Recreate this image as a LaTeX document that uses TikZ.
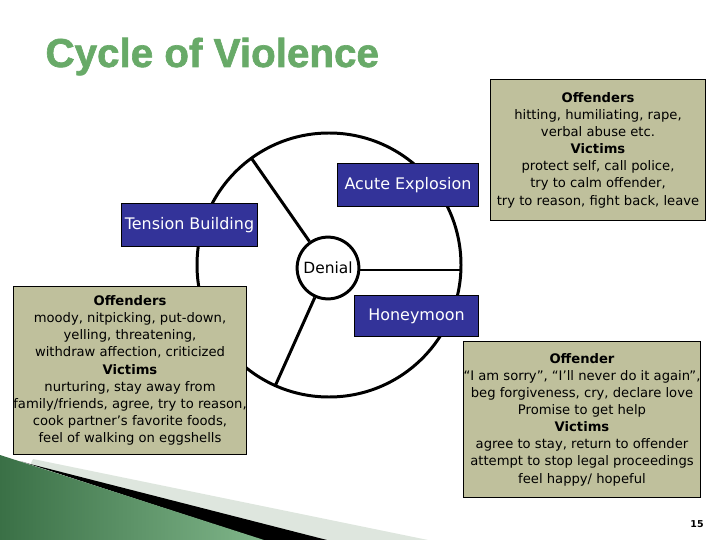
\documentclass[tikz,border=0pt]{standalone}
\usepackage{fontspec}
\setmainfont{DejaVu Sans}
\newfontfamily\titlefont[FakeBold=1.6]{Liberation Sans Bold}
\definecolor{boxfill}{RGB}{191,192,156}
\definecolor{bluefill}{RGB}{51,51,153}
\definecolor{titlegreen}{RGB}{104,170,104}
\definecolor{gdark}{RGB}{58,112,70}
\definecolor{glight}{RGB}{128,182,138}
\definecolor{gmid}{RGB}{80,136,92}
\definecolor{stripelight}{RGB}{222,230,222}
\tikzset{
  bodytext/.style={font=\fontsize{13.2}{17.2}\selectfont},
  notebox/.style={draw=black, line width=1pt, fill=boxfill, align=center, bodytext, inner sep=0pt},
  stagebox/.style={draw=black, line width=1pt, fill=bluefill, text=white, font=\fontsize{16}{19}\selectfont, inner sep=0pt},
  wheel/.style={line width=3pt, draw=black},
}
\begin{document}
\begin{tikzpicture}[x=1bp,y=-1bp]
\useasboundingbox (0,0) rectangle (720,540);
% bottom-left swoosh
\fill[stripelight] (33,459) -- (428,540) -- (326,540) -- (30,465) -- cycle;
\fill[black] (30,464) -- (327,540) -- (262,540) -- (20,461) -- cycle;
\shade[left color=gdark, middle color=gmid, right color=glight] (0,455) -- (264,540) -- (0,540) -- cycle;
% title
\node[anchor=base west, text=titlegreen, font=\titlefont\fontsize{40.5}{44}\selectfont] (title) at (42,67) {Cycle of Violence};
% wheel
\coordinate (C) at (329,265);
\draw[wheel] (C) circle[radius=132];
\node[circle, wheel, fill=white, minimum size=62, inner sep=0pt, font=\fontsize{15.5}{18}\selectfont] (denial) at (328,268) {Denial};
\coordinate (s1) at (251.4,158.2);
\coordinate (s2) at (461,270);
\coordinate (s3) at (275.3,385.6);
\draw[wheel] (denial) -- (s1);
\draw[wheel] (denial.east |- s2) -- (s2);
\draw[wheel] (denial) -- (s3);
% stage boxes
\node[stagebox, minimum width=142, minimum height=44] (acute) at (408,185) {Acute Explosion};
\node[stagebox, minimum width=137, minimum height=44] (tension) at (189.5,225) {Tension Building};
\node[stagebox, minimum width=125, minimum height=42] (honey) at (416.5,316) {Honeymoon};
% note boxes
\node[notebox, minimum width=216, minimum height=142] (acutenote) at (598,150) {\textbf{Offenders}\\hitting, humiliating, rape,\\verbal abuse etc.\\\textbf{Victims}\\protect self, call police,\\try to calm offender,\\try to reason, fight back, leave};
\node[notebox, minimum width=234, minimum height=169] (tensionnote) at (130,370.5) {\textbf{Offenders}\\moody, nitpicking, put-down,\\yelling, threatening,\\withdraw affection, criticized\\\textbf{Victims}\\nurturing, stay away from\\family/friends, agree, try to reason,\\cook partner’s favorite foods,\\feel of walking on eggshells};
\node[notebox, minimum width=230, minimum height=157] (honeynote) at (582,419.5) {\textbf{Offender}\\“I am sorry”, “I’ll never do it again”,\\beg forgiveness, cry, declare love\\Promise to get help\\\textbf{Victims}\\agree to stay, return to offender\\attempt to stop legal proceedings\\feel happy/ hopeful};
% page number
\node[font=\fontsize{9.5}{12}\selectfont\bfseries] (pnum) at (697,524) {15};
\end{tikzpicture}
\end{document}
